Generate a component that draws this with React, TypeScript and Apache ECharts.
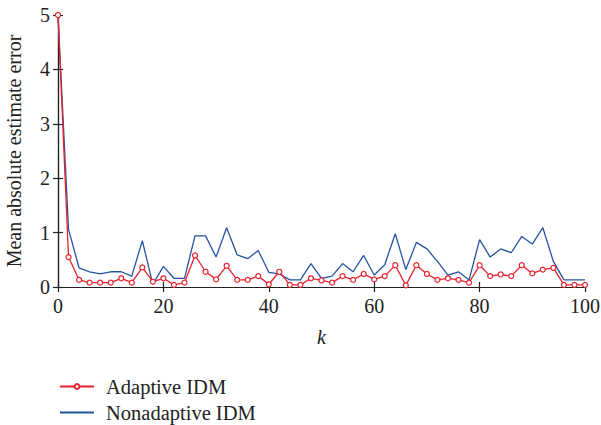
import React, { useEffect, useRef } from "react";
import * as echarts from "echarts";

const kValues = Array.from({ length: 51 }, (_, i) => i * 2);
const adaptive = [
  5, 0.55, 0.13, 0.08, 0.08, 0.08, 0.16, 0.08, 0.36, 0.1, 0.16,
  0.04, 0.08, 0.58, 0.28, 0.14, 0.39, 0.13, 0.13, 0.2, 0.05,
  0.28, 0.04, 0.04, 0.16, 0.12, 0.08, 0.2, 0.13, 0.24, 0.14,
  0.2, 0.4, 0.03, 0.4, 0.24, 0.13, 0.16, 0.13, 0.08, 0.4,
  0.2, 0.23, 0.2, 0.4, 0.25, 0.32, 0.35, 0.04, 0.04, 0.04,
];
const nonadaptive = [
  5, 1.06, 0.35, 0.28, 0.24, 0.28, 0.28, 0.2, 0.85, 0.05, 0.38,
  0.16, 0.16, 0.94, 0.94, 0.55, 1.09, 0.59, 0.52, 0.67, 0.27,
  0.24, 0.13, 0.13, 0.43, 0.16, 0.2, 0.43, 0.28, 0.58, 0.22,
  0.41, 0.98, 0.32, 0.82, 0.7, 0.47, 0.22, 0.28, 0.13, 0.87,
  0.55, 0.7, 0.63, 0.93, 0.79, 1.09, 0.47, 0.13, 0.13, 0.13,
];
const seriesNames = ["Adaptive IDM", "Nonadaptive IDM"];

const FONT = "'Liberation Serif', 'DejaVu Serif', serif";
const RED = "#e8222c";
const BLUE = "#2553a3";

export default function App() {
  const ref = useRef<HTMLDivElement>(null);
  useEffect(() => {
    const chart = echarts.init(ref.current!, null, { renderer: "svg" });
    const axisLine = { show: true, lineStyle: { color: "#222", width: 1.2 } };
    const tick = { show: true, inside: true, length: 5, lineStyle: { color: "#222", width: 1.2 } };
    chart.setOption({
      animation: false,
      backgroundColor: "#fff",
      textStyle: { fontFamily: FONT },
      grid: { left: 58, right: 16, top: 15, bottom: 138, containLabel: false, outerBoundsMode: "none" },
      legend: {
        orient: "vertical",
        left: 54,
        top: 371,
        height: 60,
        itemWidth: 34,
        itemHeight: 6,
        itemGap: 5,
        textStyle: { fontFamily: FONT, fontSize: 20.5, color: "#222", padding: [0, 0, 0, 7] },
        data: [
          { name: seriesNames[0] },
          { name: seriesNames[1], itemStyle: { opacity: 0 } },
        ],
      },
      xAxis: [
        {
          type: "value",
          min: 0,
          max: 100,
          interval: 20,
          name: "k",
          nameLocation: "middle",
          nameGap: 40,
          nameTextStyle: { fontFamily: FONT, fontSize: 20, fontStyle: "italic", color: "#222" },
          axisLine,
          axisTick: tick,
          axisLabel: { fontFamily: FONT, fontSize: 20, color: "#222", margin: 9 },
          splitLine: { show: false },
        },
        {
          type: "value",
          position: "top",
          min: 0,
          max: 100,
          interval: 20,
          axisLine,
          axisTick: tick,
          axisLabel: { show: false },
          splitLine: { show: false },
        },
      ],
      yAxis: [
        {
          type: "value",
          min: 0,
          max: 5,
          interval: 1,
          name: "Mean absolute estimate error",
          nameLocation: "middle",
          nameGap: 34,
          nameTextStyle: { fontFamily: FONT, fontSize: 20, color: "#222" },
          axisLine,
          axisTick: tick,
          axisLabel: { fontFamily: FONT, fontSize: 20, color: "#222", margin: 8 },
          splitLine: { show: false },
        },
        {
          type: "value",
          position: "right",
          min: 0,
          max: 5,
          interval: 1,
          axisLine,
          axisTick: tick,
          axisLabel: { show: false },
          splitLine: { show: false },
        },
      ],
      series: [
        {
          name: seriesNames[1],
          type: "line",
          data: kValues.map((k, i) => [k, nonadaptive[i]]),
          showSymbol: false,
          symbol: "none",
          lineStyle: { color: BLUE, width: 1.3 },
          itemStyle: { color: BLUE },
          z: 2,
        },
        {
          name: seriesNames[0],
          type: "line",
          data: kValues.map((k, i) => [k, adaptive[i]]),
          symbol: "circle",
          symbolSize: 5,
          lineStyle: { color: RED, width: 1.3 },
          itemStyle: { color: "#fff", borderColor: RED, borderWidth: 1.2 },
          z: 3,
        },
      ],
    });
    return () => chart.dispose();
  }, []);
  return <div ref={ref} style={{ width: 601, height: 425, position: "absolute", left: 0, top: 0 }} />;
}
